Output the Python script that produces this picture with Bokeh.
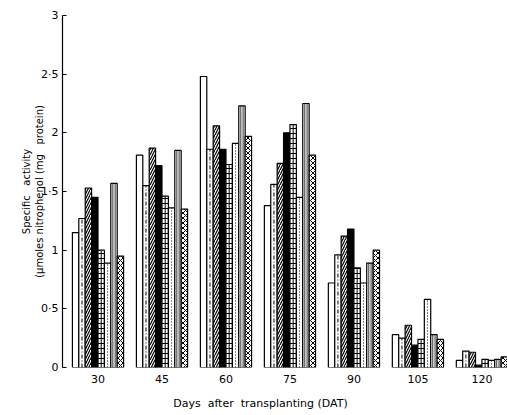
from bokeh.plotting import figure
from bokeh.models import Range1d, FixedTicker
from bokeh.embed import file_html
from bokeh.resources import INLINE

days = ["30", "45", "60", "75", "90", "105", "120"]
s_blank   = [1.15, 1.81, 2.48, 1.38, 0.72, 0.28, 0.06]
s_dashdot = [1.27, 1.55, 1.86, 1.56, 0.96, 0.25, 0.14]
s_hatch   = [1.53, 1.87, 2.06, 1.74, 1.12, 0.36, 0.13]
s_black   = [1.45, 1.72, 1.86, 2.00, 1.18, 0.19, 0.02]
s_brick   = [1.00, 1.46, 1.73, 2.07, 0.85, 0.24, 0.07]
s_dotted  = [0.89, 1.36, 1.91, 1.45, 0.72, 0.58, 0.06]
s_vert    = [1.57, 1.85, 2.23, 2.25, 0.89, 0.28, 0.07]
s_cross   = [0.95, 1.35, 1.97, 1.81, 1.00, 0.24, 0.09]
y_ticks = [0, 0.5, 1, 1.5, 2, 2.5, 3]
y_tick_labels = ["0", "0·5", "1", "1·5", "2", "2·5", "3"]

NB = "\u00a0"
FONT = "DejaVu Sans"
p = figure(width=507, height=415, output_backend="svg", toolbar_location=None,
           x_range=Range1d(-0.555, 6.4), y_range=Range1d(0, 3),
           min_border_left=62, min_border_right=0, min_border_top=15, min_border_bottom=48)
p.outline_line_color = None
p.grid.grid_line_color = None

W = 0.1
gx = list(range(len(days)))
def xs(i):
    return [g + (i - 3.5) * W for g in gx]

zeros = [0] * len(days)
common = dict(width=W, bottom=0, line_color="black", line_width=1.2)
p.vbar(x=xs(0), top=s_blank, fill_color="white", **common)
p.vbar(x=xs(1), top=s_dashdot, fill_color="white", **common)
p.segment(x0=xs(1), y0=zeros, x1=xs(1), y1=s_dashdot, line_color="black", line_width=1, line_dash="4 2 1 2")
p.vbar(x=xs(2), top=s_hatch, fill_color="white", hatch_pattern="/", hatch_scale=5, hatch_weight=1.2, hatch_color="black", **common)
p.vbar(x=xs(3), top=s_black, fill_color="black", **common)
p.vbar(x=xs(4), top=s_brick, fill_color="white", hatch_pattern="-", hatch_scale=5, hatch_weight=1, hatch_color="black", **common)
p.segment(x0=xs(4), y0=zeros, x1=xs(4), y1=s_brick, line_color="black", line_width=1)
p.vbar(x=xs(5), top=s_dotted, fill_color="white", **common)
p.segment(x0=xs(5), y0=zeros, x1=xs(5), y1=s_dotted, line_color="black", line_width=1, line_dash="1 2")
p.vbar(x=xs(6), top=s_vert, fill_color="white", **common)
for d in (-0.018, 0.018):
    xv = [x + d for x in xs(6)]
    p.segment(x0=xv, y0=zeros, x1=xv, y1=s_vert, line_color="black", line_width=0.8)
p.vbar(x=xs(7), top=s_cross, fill_color="white", hatch_pattern="x", hatch_scale=5, hatch_weight=1, hatch_color="black", **common)

# y axis
ya = p.yaxis[0]
ya.ticker = FixedTicker(ticks=y_ticks)
ya.major_label_overrides = {t: l for t, l in zip(y_ticks, y_tick_labels)}
ya.major_tick_in = 4
ya.major_tick_out = 0
ya.minor_tick_line_color = None
ya.axis_line_color = "black"
ya.axis_line_width = 1.2
ya.major_tick_line_width = 1.2
ya.major_label_text_font = FONT
ya.major_label_text_font_size = "11px"
ya.major_label_text_color = "black"
ya.major_label_standoff = 4
ya.axis_label = "Specific" + NB * 3 + "activity\n(\u00b5moles nitrophenol (mg" + NB * 3 + "protein)"
ya.axis_label_text_font = FONT
ya.axis_label_text_font_size = "10px"
ya.axis_label_text_font_style = "normal"
ya.axis_label_text_color = "black"
ya.axis_label_standoff = -7

# x axis
xa = p.xaxis[0]
xa.ticker = FixedTicker(ticks=gx)
xa.major_label_overrides = {g: d for g, d in zip(gx, days)}
xa.axis_line_color = None
xa.major_tick_line_color = None
xa.minor_tick_line_color = None
xa.major_tick_in = 0
xa.major_tick_out = 0
xa.major_label_standoff = 7
xa.major_label_text_font = FONT
xa.major_label_text_font_size = "11px"
xa.major_label_text_color = "black"
xa.axis_label = "Days" + NB * 2 + "after" + NB * 2 + "transplanting" + NB + "(DAT)" + NB * 14
xa.axis_label_text_font = FONT
xa.axis_label_text_font_size = "11px"
xa.axis_label_text_font_style = "normal"
xa.axis_label_text_color = "black"
xa.axis_label_standoff = 11

open("out.html", "w").write(file_html(p, INLINE))
